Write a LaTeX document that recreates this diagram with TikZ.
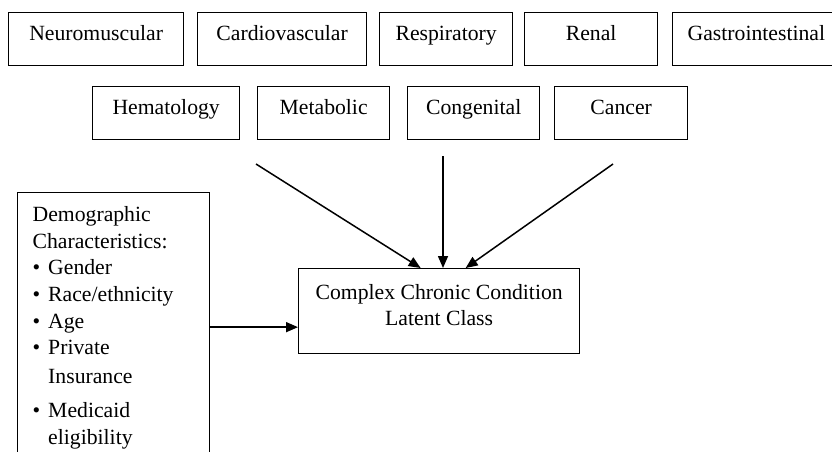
\documentclass[tikz,border=0pt]{standalone}
\usepackage{fontspec}
\setmainfont{Liberation Serif}
\usetikzlibrary{arrows.meta}
\newcommand{\bulitem}{\textbullet\hspace{8pt}}

\begin{document}
\begin{tikzpicture}[x=1pt,y=-1pt,
    cbox/.style={draw, line width=1.3pt, anchor=north west, inner xsep=0pt, inner ysep=0pt,
      text height=28pt, text depth=25pt, font=\fontsize{21.7}{26.6}\selectfont},
    conn/.style={line width=1.5pt, -{Triangle[length=12pt,width=10pt]}}]
    \useasboundingbox (0,0) rectangle (832,451);
    \clip (0,0) rectangle (832,451);

    % first row
    \node[cbox, minimum width=175pt] (neuro) at (8,12) {Neuromuscular};
    \node[cbox, minimum width=169pt] (cardio) at (197,12) {Cardiovascular};
    \node[cbox, minimum width=133pt] (resp) at (379,12) {Respiratory};
    \node[cbox, minimum width=133pt] (renal) at (524,12) {Renal};
    \node[cbox, inner xsep=15pt] (gastro) at (672,12) {Gastrointestinal};

    % second row
    \node[cbox, minimum width=147pt] (hemat) at (92,86) {Hematology};
    \node[cbox, minimum width=132pt] (metab) at (257,86) {Metabolic};
    \node[cbox, minimum width=132pt] (congen) at (407,86) {Congenital};
    \node[cbox, minimum width=133pt] (cancer) at (554,86) {Cancer};

    % outcome
    \node[draw, line width=1.3pt, anchor=north west, minimum width=281pt, inner sep=0pt,
      text height=57pt, text depth=28pt, align=center,
      font=\fontsize{21.7}{26.6}\selectfont] (ccc) at (298,268)
      {Complex Chronic Condition\\Latent Class};

    % covariates
    \node[draw, line width=1.3pt, anchor=north west, inner xsep=15pt, inner ysep=14pt,
      text width=162pt, align=left, font=\fontsize{21.7}{26.6}\selectfont] (demo) at (17,192)
      {Demographic\\Characteristics:\\\bulitem Gender\\\bulitem Race/ethnicity\\\bulitem Age\\
       \bulitem Private\\[2pt]\phantom{\bulitem}Insurance\\[8pt]\bulitem Medicaid\\\phantom{\bulitem}eligibility};

    % converging arrows
    \coordinate (s1) at (256,164);
    \coordinate (s2) at (443,156);
    \coordinate (s3) at (613,164);
    \draw[conn] (s1) -- ([xshift=-18.5pt]ccc.north);
    \draw[conn] (s2) -- (s2 |- ccc.north);
    \draw[conn] (s3) -- ([xshift=26.5pt]ccc.north);
    \draw[conn] ([yshift=-16pt]ccc.west -| demo.east) -- ([yshift=-16pt]ccc.west);
\end{tikzpicture}
\end{document}
